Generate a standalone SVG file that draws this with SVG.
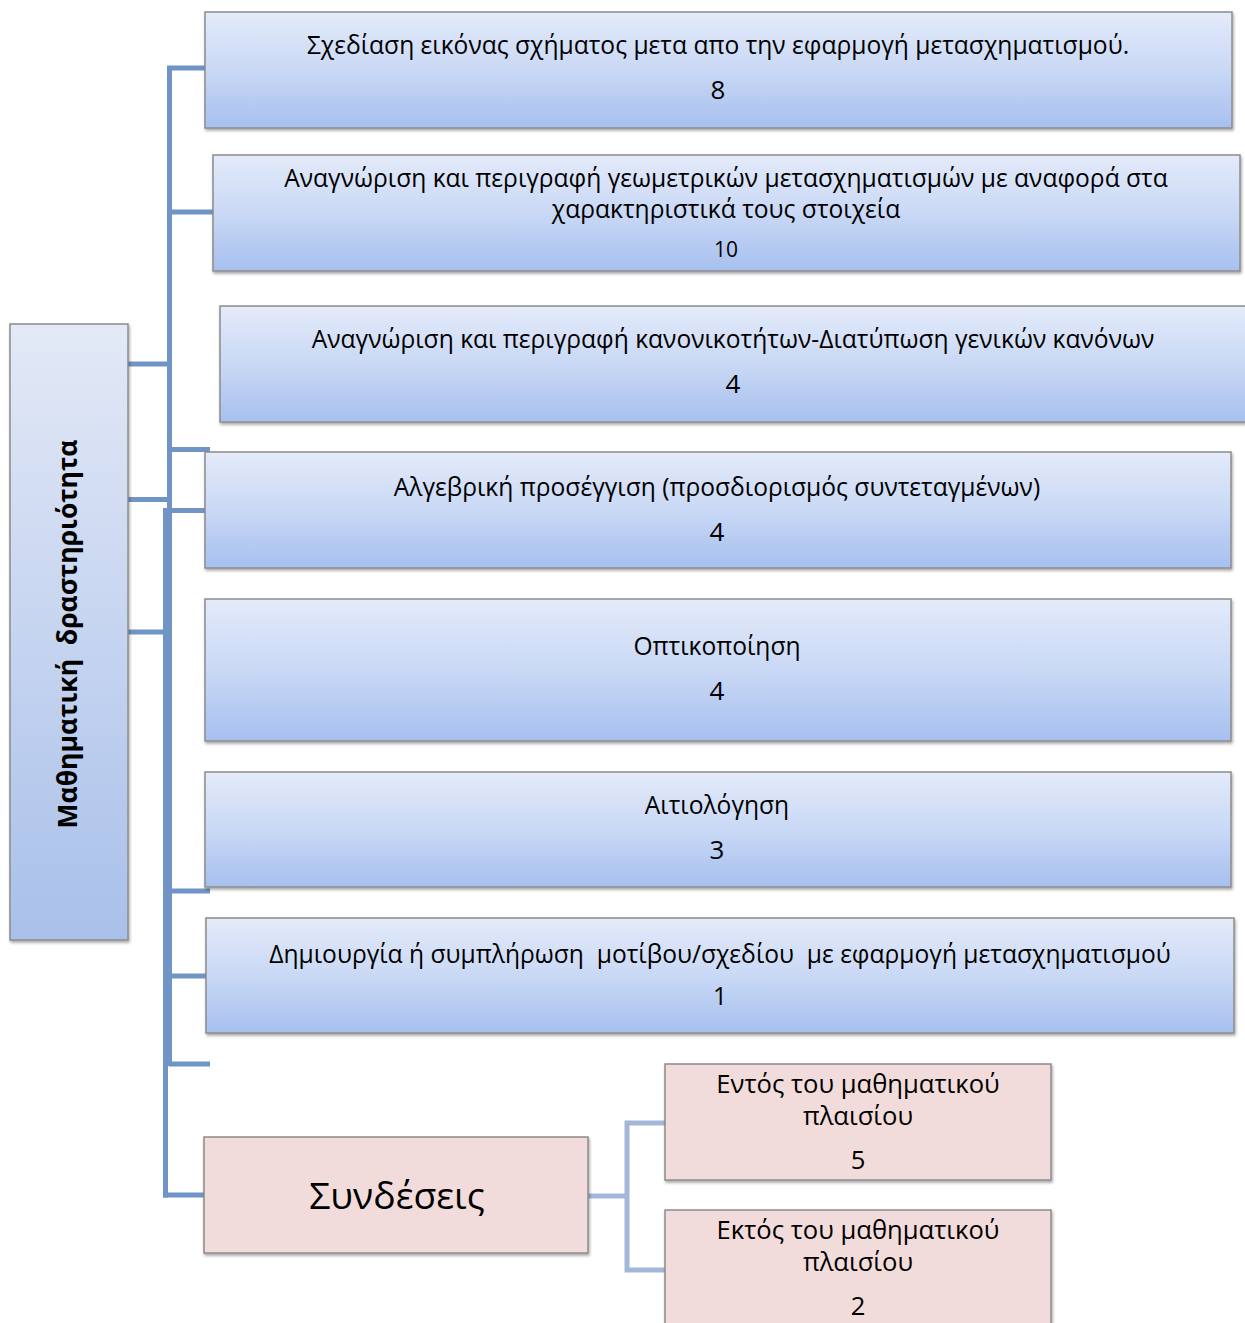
<svg xmlns="http://www.w3.org/2000/svg" width="1245" height="1323" viewBox="0 0 1245 1323">
<defs>
<linearGradient id="blue" x1="0" y1="0" x2="0" y2="1">
<stop offset="0" stop-color="#e4ebfa"/>
<stop offset="0.5" stop-color="#c9d8f5"/>
<stop offset="1" stop-color="#a7c0ef"/>
</linearGradient>
<linearGradient id="blueV" x1="0" y1="0" x2="0" y2="1">
<stop offset="0" stop-color="#e3e9f6"/>
<stop offset="1" stop-color="#a9c0ea"/>
</linearGradient>
<filter id="sh" x="-5%" y="-5%" width="110%" height="120%">
<feDropShadow dx="1" dy="2" stdDeviation="1.5" flood-color="#000" flood-opacity="0.35"/>
</filter>
</defs>
<style>
.b{fill:url(#blue);stroke:#8c8c8c;stroke-width:1.5;filter:url(#sh)}
.p{fill:#f2dcdb;stroke:#8c8c8c;stroke-width:1.5;filter:url(#sh)}
.t{font-family:"Open Sans","Noto Sans",sans-serif;font-size:24.6px;fill:#000;text-anchor:middle}
.n{font-size:26px}
.pt{font-size:25.6px}
.c{stroke:#7194c6;stroke-width:5;fill:none}
.c2{stroke:#a3b7d9;stroke-width:5;fill:none}
</style>
<g id="connectors">
<path class="c" d="M169.5 66 V1066"/>
<path class="c" d="M165.5 508 V1197.5"/>
<path class="c" d="M167 68 H205 M169 212 H213 M128 364 H169 M169 449.5 H210 M128 499.5 H169 M128 632 H169 M169 891 H210 M169 976 H206 M169 1064 H210 M165 510.5 H205 M163 1195 H204"/>
<path class="c2" d="M588 1196 H627 M665 1123 H627 V1270 H665"/>
</g>
<g id="n1"><rect class="b" x="205" y="12" width="1027" height="116"/>
<text class="t" x="718" y="54">Σχεδίαση εικόνας σχήματος μετα απο την εφαρμογή μετασχηματισμού.</text>
<text class="t n" x="718" y="99">8</text></g>
<g id="n2"><rect class="b" x="213" y="155" width="1027" height="116"/>
<text class="t" x="726" y="187">Αναγνώριση και περιγραφή γεωμετρικών μετασχηματισμών με αναφορά στα</text>
<text class="t" x="726" y="218">χαρακτηριστικά τους στοιχεία</text>
<text class="t" x="726" y="257" style="font-size:21px">10</text></g>
<g id="n3"><rect class="b" x="220" y="306" width="1030" height="116"/>
<text class="t" x="733" y="348">Αναγνώριση και περιγραφή κανονικοτήτων-Διατύπωση γενικών κανόνων</text>
<text class="t n" x="733" y="393">4</text></g>
<g id="n4"><rect class="b" x="205" y="452" width="1026" height="116"/>
<text class="t" x="717" y="496">Αλγεβρική προσέγγιση (προσδιορισμός συντεταγμένων)</text>
<text class="t n" x="717" y="541">4</text></g>
<g id="n5"><rect class="b" x="205" y="599" width="1026" height="142"/>
<text class="t" x="717" y="655">Οπτικοποίηση</text>
<text class="t n" x="717" y="700">4</text></g>
<g id="n6"><rect class="b" x="205" y="772" width="1026" height="115"/>
<text class="t" x="717" y="814">Αιτιολόγηση</text>
<text class="t n" x="717" y="859">3</text></g>
<g id="n7"><rect class="b" x="206" y="918" width="1028" height="115"/>
<text class="t" x="720" y="963" xml:space="preserve">Δημιουργία ή συμπλήρωση  μοτίβου/σχεδίου  με εφαρμογή μετασχηματισμού</text>
<text class="t" x="720" y="1005">1</text></g>
<g id="root"><rect x="10" y="324" width="118" height="616" fill="url(#blueV)" stroke="#8c8c8c" stroke-width="1.5" filter="url(#sh)"/>
<text class="t" transform="translate(77 634) rotate(-90)" style="font-size:26.5px;font-weight:bold" xml:space="preserve">Μαθηματική  δραστηριότητα</text></g>
<g id="links"><rect class="p" x="204" y="1137" width="384" height="116"/>
<text class="t" x="397" y="1209" style="font-size:37.3px">Συνδέσεις</text></g>
<g id="inside"><rect class="p" x="665" y="1064" width="386" height="116"/>
<text class="t pt" x="858" y="1093">Εντός του μαθηματικού</text>
<text class="t pt" x="858" y="1125">πλαισίου</text>
<text class="t pt" x="858" y="1169">5</text></g>
<g id="outside"><rect class="p" x="665" y="1210" width="386" height="125"/>
<text class="t pt" x="858" y="1239">Εκτός του μαθηματικού</text>
<text class="t pt" x="858" y="1271">πλαισίου</text>
<text class="t pt" x="858" y="1315">2</text></g>
</svg>
